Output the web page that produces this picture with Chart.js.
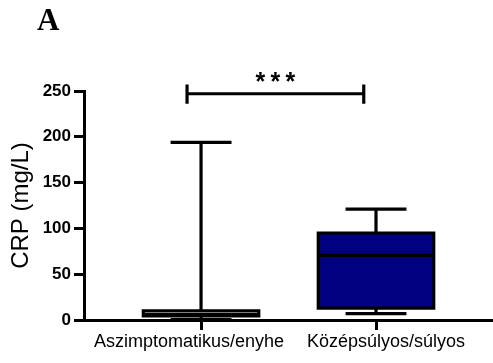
<!DOCTYPE html>
<html>
<head>
<meta charset="utf-8">
<script src="https://cdn.jsdelivr.net/npm/chart.js@4.4.1/dist/chart.umd.min.js"></script>
<style>
  html, body { margin: 0; padding: 0; background: #ffffff; }
  canvas { display: block; }
</style>
</head>
<body>
<canvas id="crp" width="493" height="363"></canvas>
<script>
// Box-plot summary of CRP per severity group
const categories = ['Aszimptomatikus/enyhe', 'Középsúlyos/súlyos'];
const whiskerLow = [0.5, 7];
const quartile1 = [4.5, 13];
const medians = [6, 70.5];
const quartile3 = [10, 95];
const whiskerHigh = [194, 121];
const yTicks = [0, 50, 100, 150, 200, 250];
const significance = '***';

// Styling / geometry
const boxFills = ['#ffffff', '#000080'];
const BOX_HALF = 0.33;     // half box width, in category units
const CAP_HALF = 0.165;    // half whisker-cap width
const LINE_W = 3.2;
const labelShift = [-12, 10];
const bracket = { x0: 0.92, x1: 1.93, y: 247, tickLow: 236, tickHigh: 257 };
const SANS = '"Liberation Sans", Arial, Helvetica, sans-serif';

const datasets = [];
categories.forEach((name, i) => {
  const c = i + 1;
  const l = c - BOX_HALF, r = c + BOX_HALF;
  // box fill between Q1 and Q3
  datasets.push({
    label: name + ' box',
    data: [{ x: l, y: quartile3[i] }, { x: r, y: quartile3[i] }],
    fill: { target: { value: quartile1[i] } },
    backgroundColor: boxFills[i],
    borderWidth: 0,
    pointRadius: 0,
    order: 2
  });
  // outline, median, whiskers and caps
  const gap = { x: c, y: null };
  datasets.push({
    label: name + ' lines',
    data: [
      { x: l, y: quartile1[i] }, { x: r, y: quartile1[i] }, { x: r, y: quartile3[i] },
      { x: l, y: quartile3[i] }, { x: l, y: quartile1[i] }, gap,
      { x: l, y: medians[i] }, { x: r, y: medians[i] }, gap,
      { x: c, y: quartile3[i] }, { x: c, y: whiskerHigh[i] }, gap,
      { x: c - CAP_HALF, y: whiskerHigh[i] }, { x: c + CAP_HALF, y: whiskerHigh[i] }, gap,
      { x: c, y: quartile1[i] }, { x: c, y: whiskerLow[i] }, gap,
      { x: c - CAP_HALF, y: whiskerLow[i] }, { x: c + CAP_HALF, y: whiskerLow[i] }
    ],
    fill: false,
    borderColor: '#000000',
    borderWidth: LINE_W,
    borderJoinStyle: 'miter',
    borderCapStyle: 'square',
    pointRadius: 0,
    spanGaps: false,
    order: 1
  });
});

// significance bracket
datasets.push({
  label: 'bracket',
  data: [
    { x: bracket.x0, y: bracket.tickLow }, { x: bracket.x0, y: bracket.tickHigh }, { x: bracket.x0, y: null },
    { x: bracket.x0, y: bracket.y }, { x: bracket.x1, y: bracket.y }, { x: bracket.x1, y: null },
    { x: bracket.x1, y: bracket.tickLow }, { x: bracket.x1, y: bracket.tickHigh }
  ],
  fill: false,
  borderColor: '#000000',
  borderWidth: LINE_W,
  borderCapStyle: 'butt',
  pointRadius: 0,
  spanGaps: false,
  order: 0
});

const textPlugin = {
  id: 'chartTexts',
  afterDraw(chart) {
    const { ctx, scales: { x, y } } = chart;
    ctx.save();
    ctx.fillStyle = '#000000';
    ctx.textBaseline = 'alphabetic';
    // panel letter
    ctx.font = 'bold 31px "Liberation Serif", "Times New Roman", serif';
    ctx.textAlign = 'left';
    ctx.fillText('A', 37, 30);
    // category labels
    ctx.font = '18px ' + SANS;
    ctx.textAlign = 'center';
    categories.forEach((name, i) => {
      ctx.fillText(name, x.getPixelForValue(i + 1) + labelShift[i], y.bottom + 27);
    });
    // significance stars
    ctx.font = 'bold 25px ' + SANS;
    ctx.textBaseline = 'middle';
    const cx = x.getPixelForValue((bracket.x0 + bracket.x1) / 2);
    const by = y.getPixelForValue(bracket.y);
    [...significance].forEach((s, k) => {
      ctx.fillText(s, cx + (k - 1) * 15, by - 11);
    });
    ctx.restore();
  }
};

new Chart(document.getElementById('crp'), {
  type: 'line',
  data: { datasets },
  options: {
    responsive: false,
    animation: false,
    devicePixelRatio: 1,
    layout: { padding: { top: 91, right: 1, bottom: 0, left: 0 } },
    plugins: { legend: { display: false }, tooltip: { enabled: false } },
    elements: { line: { tension: 0 } },
    datasets: { line: { clip: false } },
    scales: {
      x: {
        type: 'linear',
        min: 0.331,
        max: 2.663,
        afterBuildTicks: (scale) => { scale.ticks = categories.map((_, i) => ({ value: i + 1 })); },
        afterFit: (scale) => { scale.height = 43; },
        ticks: { display: false },
        grid: { drawOnChartArea: false, drawTicks: true, tickLength: 10, tickWidth: 3, tickColor: '#000000' },
        border: { display: true, color: '#000000', width: 3 }
      },
      y: {
        type: 'linear',
        min: 0,
        max: 250,
        afterBuildTicks: (scale) => { scale.ticks = yTicks.map(v => ({ value: v })); },
        afterFit: (scale) => { scale.width = 84; },
        ticks: {
          color: '#000000',
          padding: 3,
          font: { family: SANS, size: 17, weight: 'bold' }
        },
        grid: { drawOnChartArea: false, drawTicks: true, tickLength: 10, tickWidth: 3, tickColor: '#000000' },
        border: { display: true, color: '#000000', width: 3 },
        title: {
          display: true,
          text: 'CRP (mg/L)',
          color: '#000000',
          font: { family: SANS, size: 24, weight: 'normal' },
          padding: { top: 7, bottom: 0 }
        }
      }
    }
  },
  plugins: [textPlugin]
});
</script>
</body>
</html>
